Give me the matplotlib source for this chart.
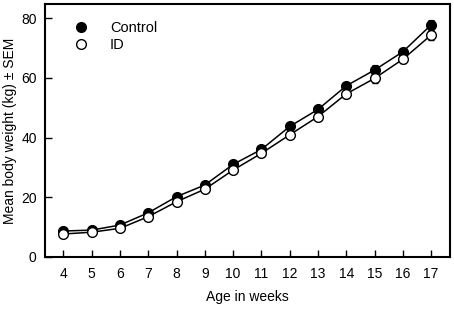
import numpy as np
import matplotlib
matplotlib.use("Agg")
import matplotlib.pyplot as plt
from matplotlib.lines import Line2D

plt.rcParams['font.family'] = ['Liberation Sans', 'DejaVu Sans']

# Data
weeks = [4, 5, 6, 7, 8, 9, 10, 11, 12, 13, 14, 15, 16, 17]
control = [8.7, 9.0, 10.7, 14.8, 20.2, 24.1, 31.0, 36.0, 43.7, 49.4, 57.3, 62.6, 68.7, 77.7]
control_sem = [0.5, 0.5, 0.6, 0.7, 0.8, 0.9, 1.0, 1.0, 1.1, 1.2, 1.4, 1.6, 1.4, 1.8]
id_group = [7.7, 8.3, 9.6, 13.5, 18.5, 22.7, 29.1, 34.7, 40.9, 47.0, 54.6, 59.8, 66.2, 74.3]
id_sem = [0.4, 0.4, 0.5, 0.6, 0.7, 0.8, 0.9, 1.0, 1.0, 1.1, 1.3, 1.6, 1.3, 1.5]

fig = plt.figure(figsize=(4.54, 3.10), dpi=100)
ax = fig.add_axes([45 / 454, 53 / 310, 404.5 / 454, 253 / 310])

ax.errorbar(weeks, control, yerr=control_sem, fmt='-o', color='black',
            mfc='black', mec='black', ms=7, lw=1.1, elinewidth=0.8,
            capsize=2.5, capthick=0.8, zorder=3)
ax.errorbar(weeks, id_group, yerr=id_sem, fmt='-o', color='black',
            mfc='white', mec='black', ms=7, lw=1.1, mew=1.0, elinewidth=0.8,
            capsize=2.5, capthick=0.8, zorder=4)

ax.set_xlim(3.35, 17.65)
ax.set_ylim(0, 84.7)
ax.set_xticks(weeks)
ax.set_yticks([0, 20, 40, 60, 80])
ax.tick_params(direction='in', length=5, width=1, labelsize=10)
ax.tick_params(axis='x', pad=7)
ax.tick_params(axis='y', pad=6)
for s in ax.spines.values():
    s.set_linewidth(1.5)

ax.set_xlabel('Age in weeks', fontsize=10, labelpad=7)
ax.set_ylabel('Mean body weight (kg) \u00b1 SEM', fontsize=10, labelpad=3)

handles = [
    Line2D([], [], ls='none', marker='o', ms=7, mfc='black', mec='black'),
    Line2D([], [], ls='none', marker='o', ms=7, mfc='white', mec='black'),
]
ax.legend(handles, ['Control', 'ID'], loc='upper left',
          bbox_to_anchor=(0.038, 0.985), frameon=False, fontsize=10.5,
          handletextpad=1.5, labelspacing=0.2, handlelength=1.0)

fig.savefig('out.png', dpi=100)
